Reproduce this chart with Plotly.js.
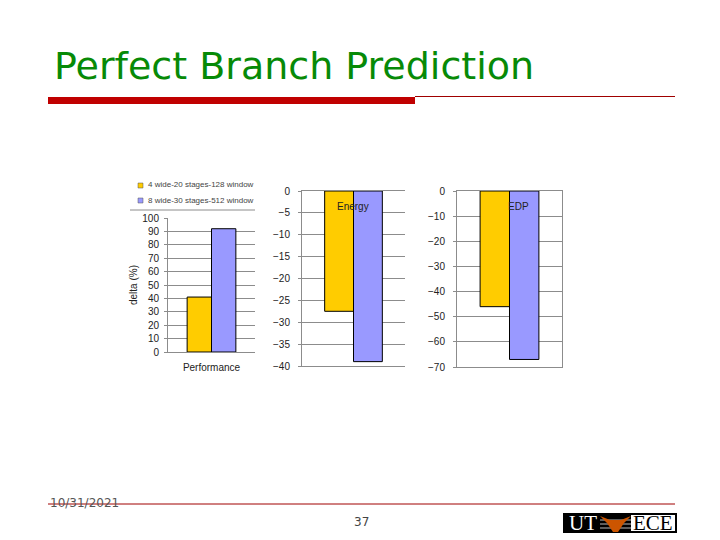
<!DOCTYPE html>
<html>
<head>
<meta charset="utf-8">
<script src="https://cdn.plot.ly/plotly-3.0.1.min.js"></script>
<style>html,body{margin:0;padding:0;background:#fff;}#chart{width:720px;height:540px;}</style>
</head>
<body>
<div id="chart"></div>
<script>
// ---- data ----
const categories = ["Performance", "Energy", "EDP"];
const seriesNames = ["4 wide-20 stages-128 window", "8 wide-30 stages-512 window"];
const series4wide = [41, -27.5, -46];
const series8wide = [92, -39, -67];
const yTitle = "delta (%)";
const slideTitle = "Perfect Branch Prediction";
const dateText = "10/31/2021";
const pageNum = "37";

// ---- helpers ----
const W = 720, H = 540;
const px = x => x / W;
const py = y => 1 - y / H;
const colors = ["#FFCC00", "#9999FF"];
const seriesVals = [series4wide, series8wide];

const traces = [];
categories.forEach((cat, i) => {
  seriesVals.forEach((vals, s) => {
    traces.push({
      type: "bar",
      x: [cat],
      y: [vals[i]],
      name: seriesNames[s],
      xaxis: "x" + (i === 0 ? "" : i + 1),
      yaxis: "y" + (i === 0 ? "" : i + 1),
      marker: {color: colors[s], line: {color: "#000", width: 1}},
      showlegend: false,
      hoverinfo: "skip"
    });
  });
});

const tickFont = {family: "Liberation Sans, Arial, sans-serif", size: 10, color: "#222"};
const gridC = "#8c8c8c";

function yax(domainPx, range, dtick, anchor, mirror, standoff) {
  return {
    domain: [py(domainPx[1]), py(domainPx[0])],
    anchor: anchor,
    range: range, dtick: dtick, tick0: 0,
    showgrid: true, gridcolor: gridC, gridwidth: 1,
    showline: true, linecolor: gridC, linewidth: 1, mirror: mirror,
    ticks: "outside", ticklen: 3, tickcolor: gridC, ticklabelstandoff: standoff,
    zeroline: false, tickfont: tickFont, fixedrange: true
  };
}
function xax(domainPx, anchor, showLabels, mirror) {
  return {
    domain: [px(domainPx[0]), px(domainPx[1])],
    anchor: anchor, type: "category",
    showline: true, linecolor: gridC, linewidth: 1, mirror: mirror,
    ticks: "", showticklabels: showLabels, tickfont: tickFont, ticklabelstandoff: 6,
    showgrid: false, zeroline: false, fixedrange: true
  };
}

function ann(text, x, y, font, extra) {
  return Object.assign({text: text, x: px(x), y: py(y), xref: "paper", yref: "paper",
    xanchor: "center", yanchor: "middle", showarrow: false, font: font}, extra || {});
}

const serif = "Liberation Serif, Times New Roman, serif";
const verd = "DejaVu Sans, Verdana, sans-serif";
const annotations = [
  ann(slideTitle, 52, 66, {family: verd, size: 38, color: "#078A07"}, {xanchor: "left"}),
  ann(yTitle, 133, 285, tickFont, {textangle: -90}),
  ann(categories[1], 353, 206, tickFont),
  ann(categories[2], 518, 206, tickFont),
  ann(dateText, 48, 503, {family: verd, size: 12, color: "#555"}, {xanchor: "left"}),
  ann(pageNum, 361, 522, {family: verd, size: 12, color: "#444"}),
  ann("UT", 583, 523, {family: serif, size: 21, color: "#fff"}),
  ann("ECE", 653, 523, {family: serif, size: 21, color: "#000"})
];

// manual legend
seriesNames.forEach((n, s) => {
  annotations.push(ann(n, 146, 185 + s * 15, {family: "Liberation Sans, Arial, sans-serif", size: 8, color: "#444"}, {xanchor: "left"}));
});

const shapes = [
  // title underline
  {type: "rect", xref: "paper", yref: "paper", x0: px(48), x1: px(415), y0: py(104), y1: py(97), fillcolor: "#C00000", line: {width: 0}},
  {type: "line", xref: "paper", yref: "paper", x0: px(415), x1: px(675), y0: py(96.5), y1: py(96.5), line: {color: "#A00000", width: 1}},
  // footer line
  {type: "line", xref: "paper", yref: "paper", x0: px(48), x1: px(675), y0: py(504), y1: py(504), line: {color: "#A00000", width: 1}},
  // legend separator
  {type: "line", xref: "paper", yref: "paper", x0: px(130), x1: px(255), y0: py(210), y1: py(210), line: {color: gridC, width: 1}},
  // logo
  {type: "rect", xref: "paper", yref: "paper", x0: px(563), x1: px(677), y0: py(533), y1: py(513), fillcolor: "#000", line: {width: 0}},
  {type: "rect", xref: "paper", yref: "paper", x0: px(631), x1: px(675), y0: py(531), y1: py(515), fillcolor: "#fff", line: {width: 0}},
  {type: "line", xref: "paper", yref: "paper", x0: px(600), x1: px(631), y0: py(520), y1: py(520), line: {color: "#bbb", width: 1}},
  {type: "line", xref: "paper", yref: "paper", x0: px(600), x1: px(631), y0: py(524), y1: py(524), line: {color: "#bbb", width: 1}},
  {type: "line", xref: "paper", yref: "paper", x0: px(600), x1: px(631), y0: py(528), y1: py(528), line: {color: "#bbb", width: 1}},
  {type: "path", xref: "paper", yref: "paper",
   path: `M ${px(600)} ${py(516)} L ${px(610)} ${py(520)} L ${px(621)} ${py(520)} L ${px(631)} ${py(516)} L ${px(624)} ${py(523)} L ${px(618)} ${py(532)} L ${px(613)} ${py(532)} L ${px(607)} ${py(523)} Z`,
   fillcolor: "#CC5500", line: {width: 0}}
];
seriesNames.forEach((n, s) => {
  shapes.push({type: "rect", xref: "paper", yref: "paper", x0: px(138), x1: px(143), y0: py(188 + s * 15), y1: py(183 + s * 15),
    fillcolor: colors[s], line: {color: "#555", width: 0.5}});
});

const layout = {
  width: W, height: H,
  margin: {l: 0, r: 0, t: 0, b: 0},
  paper_bgcolor: "#fff", plot_bgcolor: "#fff",
  barmode: "group", bargap: 0.44, bargroupgap: 0,
  showlegend: false,
  xaxis: xax([168, 255], "y", true, false),
  yaxis: yax([218, 352], [0, 100], 10, "x", false, 3),
  xaxis2: xax([302, 405], "y2", false, true),
  yaxis2: yax([191, 366], [-40, 0], 5, "x2", false, 6),
  xaxis3: xax([457, 562], "y3", false, true),
  yaxis3: yax([191, 367], [-70, 0], 10, "x3", true, 6),
  annotations: annotations,
  shapes: shapes
};

Plotly.newPlot("chart", traces, layout, {staticPlot: true, displayModeBar: false});
</script>
</body>
</html>
